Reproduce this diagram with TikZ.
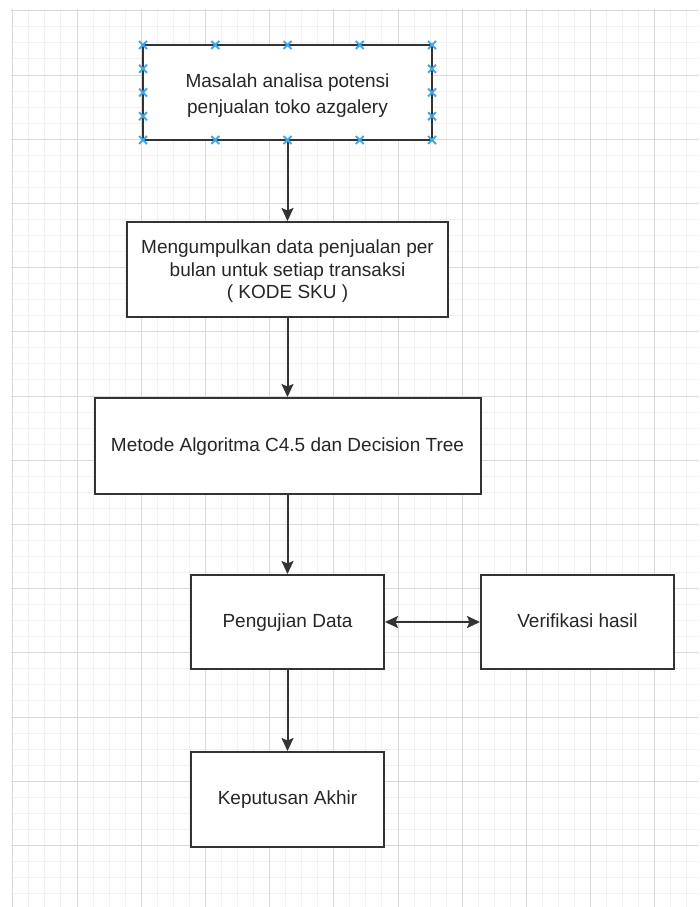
\documentclass[tikz,border=0pt]{standalone}
\usepackage{fontspec}
\setmainfont{Liberation Sans}
\usetikzlibrary{arrows.meta}
\definecolor{gridminor}{HTML}{F1F1F1}
\definecolor{gridmajor}{HTML}{D9D9D9}
\definecolor{boxline}{HTML}{333333}
\definecolor{txt}{HTML}{262626}
\definecolor{handle}{HTML}{3FA9E8}
\tikzset{
  box/.style={draw=boxline, line width=2pt, fill=white, align=center, text=txt,
    font=\fontsize{19}{22.5}\selectfont, inner sep=0pt},
  oneline/.style={text height=14pt, text depth=4pt},
  conn/.style={draw=boxline, line width=2pt, -{Stealth[length=13pt,width=12pt,inset=2.5pt]}},
  conn2/.style={draw=boxline, line width=2pt, {Stealth[length=13pt,width=12pt,inset=2.5pt]}-{Stealth[length=13pt,width=12pt,inset=2.5pt]}},
  handlemark/.style={draw=handle, line width=1.8pt}
}
\begin{document}
\begin{tikzpicture}[x=1pt,y=-1pt]
\useasboundingbox (0,0) rectangle (699,907);
\fill[white] (0,0) rectangle (699,907);
% grid
\begin{scope}
\clip (11,9) rectangle (699,907);
\foreach \i in {0,...,43} {
  \draw[gridminor, line width=1pt] ({12.8+16.05*\i},9) -- ({12.8+16.05*\i},907);
}
\foreach \i in {-1,...,56} {
  \draw[gridminor, line width=1pt] (11,{10.8+16.05*\i}) -- (699,{10.8+16.05*\i});
}
\foreach \i in {0,...,10} {
  \draw[gridmajor, line width=1pt] ({12.8+64.2*\i},9) -- ({12.8+64.2*\i},907);
}
\foreach \i in {0,...,14} {
  \draw[gridmajor, line width=1pt] (11,{10.8+64.2*\i}) -- (699,{10.8+64.2*\i});
}
\end{scope}
% boxes
\node[box, minimum width=289pt, minimum height=95pt] (b1) at (287.5,92.5) {\raisebox{-7.5pt}[0pt][0pt]{\begin{tabular}{@{}c@{}}Masalah analisa potensi\\[3.5pt]penjualan toko azgalery\end{tabular}}};
\node[box, minimum width=321pt, minimum height=95pt] (b2) at (287.5,269.5) {\raisebox{-6.5pt}[0pt][0pt]{\begin{tabular}{@{}c@{}}Mengumpulkan data penjualan per\\bulan untuk setiap transaksi\\( KODE SKU )\end{tabular}}};
\node[box, oneline, minimum width=386pt, minimum height=96pt] (b3) at (287.5,446) {Metode Algoritma C4.5 dan Decision Tree};
\node[box, oneline, minimum width=193pt, minimum height=94pt] (b4) at (287.5,622) {Pengujian Data};
\node[box, oneline, minimum width=193pt, minimum height=94pt] (b5) at (577.5,622) {Verifikasi hasil};
\node[box, oneline, minimum width=193pt, minimum height=95pt] (b6) at (287.5,799.5) {Keputusan Akhir};
% connectors
\draw[conn] (b1.south) -- (b2.north);
\draw[conn] (b2.south) -- (b3.north);
\draw[conn] (b3.south) -- (b4.north);
\draw[conn] (b4.south) -- (b6.north);
\draw[conn2] (b4.east) -- (b5.west);
% selection handles on b1
\foreach \hx in {143,215.25,287.5,359.75,432} {
  \foreach \hy in {45,140} {
    \draw[handlemark] (\hx-4,\hy-4) -- (\hx+4,\hy+4) (\hx-4,\hy+4) -- (\hx+4,\hy-4);
  }
}
\foreach \hx in {143,432} {
  \foreach \hy in {68.75,92.5,116.25} {
    \draw[handlemark] (\hx-4,\hy-4) -- (\hx+4,\hy+4) (\hx-4,\hy+4) -- (\hx+4,\hy-4);
  }
}
\end{tikzpicture}
\end{document}
